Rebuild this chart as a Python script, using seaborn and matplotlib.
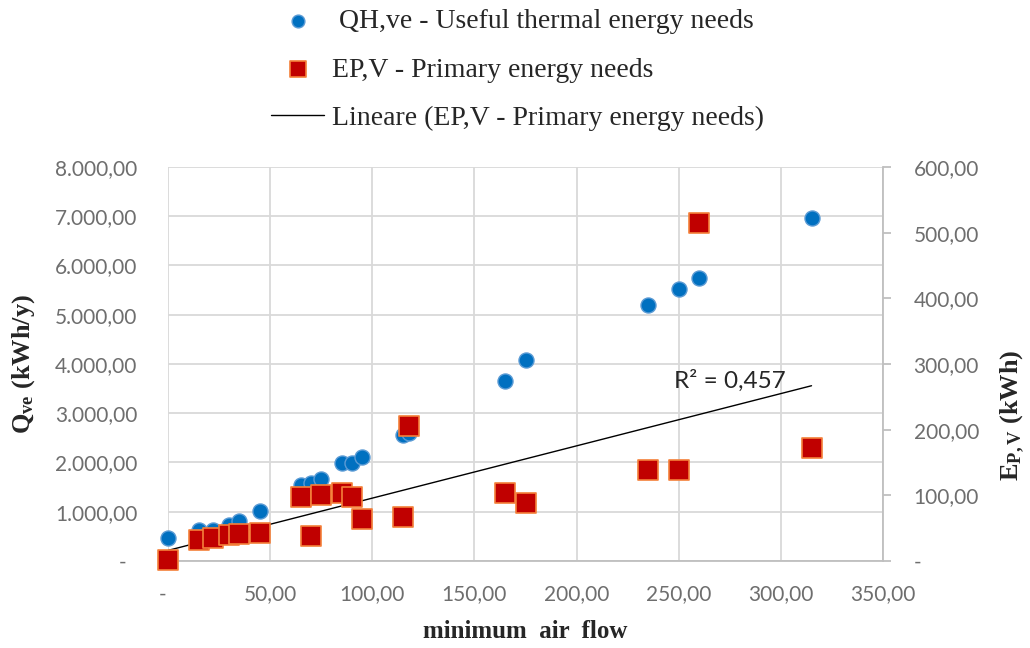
import matplotlib
matplotlib.use("Agg")
import matplotlib.pyplot as plt
from matplotlib.ticker import FuncFormatter, MultipleLocator
import seaborn as sns

# values
air_flow = [0, 15, 22, 30, 35, 45, 65, 70, 75, 85, 90, 95, 115, 118, 165, 175, 235, 250, 260, 315]
q_hve = [460, 629, 629, 730, 817, 1020, 1541, 1576, 1663, 1994, 1981, 2103, 2556, 2590,
         3651, 4077, 5207, 5531, 5755, 6972]
ep_v = [1.5, 32, 34.5, 39.6, 41, 42, 98, 38.5, 100.5, 104, 98, 63.5, 66.5, 206,
        104, 89, 138.5, 138.5, 514, 171.5]

label_q = " QH,ve - Useful thermal energy needs"
label_ep = "EP,V - Primary energy needs"
label_fit = "Lineare (EP,V - Primary energy needs)"
r2_text = "R\u00b2 = 0,457"

sns.set_style("white")
plt.rcParams["font.family"] = ["Lato", "DejaVu Sans"]
plt.rcParams["mathtext.fontset"] = "custom"
plt.rcParams["mathtext.rm"] = "Liberation Serif:bold"
plt.rcParams["mathtext.it"] = "Liberation Serif:bold"
plt.rcParams["mathtext.bf"] = "Liberation Serif:bold"

GRID = "#D9D9D9"
AXIS = "#BFBFBF"
TICK = "#6E6E6E"


def eu(v, blank):
    if abs(v) < 1e-9:
        return blank
    s = f"{v:,.2f}"
    return s.replace(",", "X").replace(".", ",").replace("X", ".")


fig = plt.figure(figsize=(10.3, 6.48), dpi=100)
ax = fig.add_axes([0.1631, 0.1343, 0.6942, 0.608])
ax2 = ax.twinx()

sns.scatterplot(x=air_flow, y=q_hve, ax=ax, marker="o", s=117, color="#0070C0",
                edgecolor="#5B9BD5", linewidth=1, label=label_q, legend=False,
                clip_on=False, zorder=3)
sns.scatterplot(x=air_flow, y=ep_v, ax=ax2, marker="s", s=188, color="#C00000",
                edgecolor="#F4803A", linewidth=1.2, label=label_ep, legend=False,
                clip_on=False, zorder=3)
sns.regplot(x=air_flow, y=ep_v, ax=ax2, scatter=False, ci=None, truncate=True,
            color="black", line_kws=dict(linewidth=1), label=label_fit)

ax.set_xlim(0, 350)
ax.set_ylim(0, 8000)
ax2.set_ylim(0, 600)
ax.xaxis.set_major_locator(MultipleLocator(50))
ax.yaxis.set_major_locator(MultipleLocator(1000))
ax2.yaxis.set_major_locator(MultipleLocator(100))

ax.xaxis.set_major_formatter(FuncFormatter(lambda v, p: eu(v, "-  ")))
ax.yaxis.set_major_formatter(FuncFormatter(lambda v, p: eu(v, "-  ")))
ax2.yaxis.set_major_formatter(FuncFormatter(lambda v, p: eu(v, "-")))

ax.grid(True, color=GRID, linewidth=1.3)
ax.set_axisbelow(True)
for side in ["top", "left", "right"]:
    ax.spines[side].set_visible(False)
ax.spines["bottom"].set_color(AXIS)
ax.spines["bottom"].set_linewidth(1.3)
for side in ["top", "left", "bottom"]:
    ax2.spines[side].set_visible(False)
ax2.spines["right"].set_color(AXIS)
ax2.spines["right"].set_linewidth(1.3)

ax.tick_params(axis="x", length=0, pad=17, labelsize=15, labelcolor=TICK)
ax.tick_params(axis="y", length=0, pad=22, labelsize=15, labelcolor=TICK)
ax2.tick_params(axis="y", direction="out", length=6, width=1.3, color=AXIS,
                pad=16, labelsize=15, labelcolor=TICK)

ax.set_xlabel("minimum  air  flow", family="Liberation Serif", fontweight="bold",
              fontsize=18)
ax.xaxis.set_label_coords(0.5, -0.15)
ax.set_ylabel(r"Q$_{\mathrm{ve}}$ (kWh/y)", family="Liberation Serif",
              fontweight="bold", fontsize=19)
ax.yaxis.set_label_coords(-0.183, 0.5)
ax2.set_ylabel(r"E$_{\mathrm{P,V}}$ (kWh)", family="Liberation Serif",
               fontweight="bold", fontsize=19)
ax2.yaxis.set_label_coords(1.162, 0.37)

ax2.text(275, 275, r2_text, ha="center", va="center", fontsize=17.5, color="#262626")

handles = [ax.collections[0], ax2.collections[0], ax2.lines[0]]
labels = [label_q, label_ep, label_fit]
fig.legend(handles, labels, loc="upper left", bbox_to_anchor=(0.250, 1.008),
           frameon=False, borderpad=0, prop=dict(family="Liberation Serif", size=20),
           labelspacing=0.83, handlelength=1.9, handletextpad=0.3,
           scatterpoints=1, markerscale=0.85)

fig.savefig("out.png", dpi=100)
